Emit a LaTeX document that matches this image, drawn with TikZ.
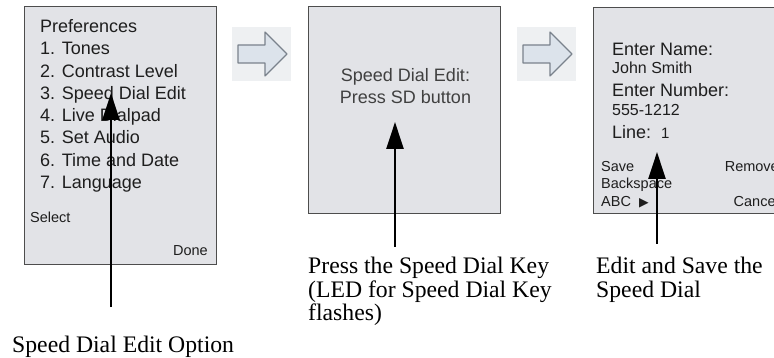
\documentclass[tikz,border=0pt]{standalone}
\usepackage{fontspec}
\setmainfont{Liberation Serif}
\setsansfont{Liberation Sans}
\newfontfamily\symbolfont{DejaVu Sans}
\usepackage{tikz}
\usetikzlibrary{arrows.meta,positioning}
\definecolor{screengray}{HTML}{E2E3E7}
\definecolor{frame}{HTML}{4D4D4D}
\definecolor{ink}{HTML}{1E1E1E}
\definecolor{hintbg}{HTML}{EEF0F2}
\definecolor{hintfill}{HTML}{DCE3EB}
\definecolor{hintline}{HTML}{7A828C}
\tikzset{
  x=1pt, y=-1pt,
  screen/.style={draw=frame, fill=screengray, line width=1pt, anchor=north west, inner sep=0pt, minimum width=192pt},
  menuitem/.style={font=\sffamily\fontsize{18}{20}\selectfont, text=ink, anchor=base west, inner sep=0pt},
  entry/.style={menuitem, font=\sffamily\fontsize{16}{18}\selectfont},
  softkey/.style={font=\sffamily\fontsize{14.5}{16}\selectfont, text=ink, anchor=base west, inner sep=0pt},
  prompt/.style={menuitem, anchor=base, text=ink!85},
  caption/.style={font=\rmfamily\fontsize{23.7}{23.5}\selectfont, align=left, anchor=north west, inner sep=0pt},
  pointer/.style={-{Triangle[length=27pt,width=17pt]}, draw=black, line width=2.5pt},
  nextstep/.pic={
    \fill[hintbg] (0,0) rectangle (59,54);
    \draw[hintline, fill=hintfill, line width=1.1pt, line join=round] (6,18) -- (33,18) -- (33,5) -- (55,27) -- (33,49) -- (33,36) -- (6,36) -- cycle;
  }
}
\begin{document}
\begin{tikzpicture}
  \useasboundingbox (0,0) rectangle (774,358);
  \clip (0,0) rectangle (774,358);

  \node[screen, minimum height=258pt] (prefs) at (24,6) {};
  \node[screen, minimum height=207pt] (sdprompt) at (308,6) {};
  \node[screen, minimum height=206pt] (sdedit) at (593,7) {};

  \foreach \item [count=\i from 0] in {Preferences, 1. Tones, 2. Contrast Level, 3. Speed Dial Edit, 4. Live Dialpad, 5. Set Audio, 6. Time and Date, 7. Language}
    \node[menuitem] (menu\i) at (40, 32.5+22.3*\i) {\item};
  \node[softkey] (select) at (30,223) {Select};
  \node[softkey, anchor=base east] (done) at (208,255) {Done};

  \node[prompt] (sdtitle) at (405.5,81.5) {Speed Dial Edit:};
  \node[prompt] (sdhint) at (405.5,103.5) {Press SD button};

  \node[menuitem] (namelbl) at (612,56) {Enter Name:};
  \node[entry] (nameval) at (612,74) {John Smith};
  \node[menuitem] (numlbl) at (612,97) {Enter Number:};
  \node[entry] (numval) at (612,116) {555-1212};
  \node[menuitem] (linelbl) at (612,139) {Line:\ \ {\fontsize{15}{17}\selectfont 1}};
  \node[softkey] (save) at (601,172) {Save};
  \node[softkey] (backsp) at (601,189) {Backspace};
  \node[softkey] (abc) at (601,206.5) {ABC\ \ {\symbolfont\fontsize{12.5}{13}\selectfont ▶}};
  \node[softkey, anchor=base east] (remove) at (779,172) {Remove};
  \node[softkey, anchor=base east] (cancel) at (779,206.5) {Cancel};

  \pic at (232,27) {nextstep};
  \pic at (517,27) {nextstep};

  \node[caption] (cap1) at (12,336) {Speed Dial Edit Option};
  \node[caption] (cap2) at (308,257) {Press the Speed Dial Key\\(LED for Speed Dial Key\\flashes)};
  \node[caption] (cap3) at (596,257) {Edit and Save the\\Speed Dial};

  \coordinate (tail1) at (111,307);
  \coordinate (tip1) at (111,93);
  \coordinate (tail2) at (395,247);
  \coordinate (tip2) at (395,122);
  \coordinate (tail3) at (657,244);
  \coordinate (tip3) at (657,152);
  \draw[pointer] (tail1) -- (tip1);
  \draw[pointer] (tail2) -- (tip2);
  \draw[pointer] (tail3) -- (tip3);
\end{tikzpicture}
\end{document}
